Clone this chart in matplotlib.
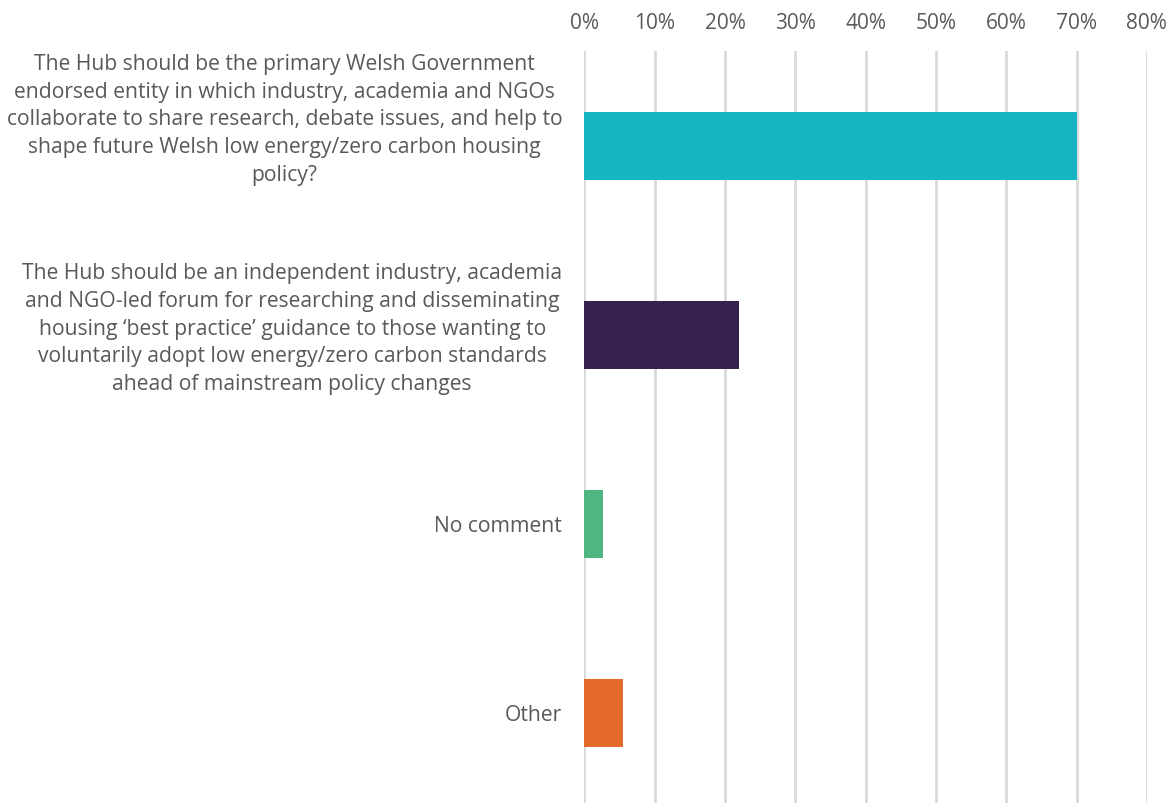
import matplotlib.pyplot as plt
from matplotlib.ticker import PercentFormatter

# survey answers, top to bottom
options = [
    "The Hub should be the primary Welsh Government\n"
    "endorsed entity in which industry, academia and NGOs\n"
    "collaborate to share research, debate issues, and help to\n"
    "shape future Welsh low energy/zero carbon housing\n"
    "policy?",
    "The Hub should be an independent industry, academia\n"
    "and NGO-led forum for researching and disseminating\n"
    "housing \u2018best practice\u2019 guidance to those wanting to\n"
    "voluntarily adopt low energy/zero carbon standards\n"
    "ahead of mainstream policy changes",
    "No comment",
    "Other",
]
shares = [70.0, 22.0, 2.7, 5.5]
bar_colors = ["#17B5C4", "#38204F", "#4FB581", "#E46A2B"]
x_ticks = [0, 10, 20, 30, 40, 50, 60, 70, 80]
# long wrapped labels sit a little above their bar (points)
label_lift = [19.5, 5, -1, -1]

text_grey = "#595959"
plt.rcParams["font.family"] = ["Open Sans", "DejaVu Sans"]

fig = plt.figure(figsize=(11.75, 8.04), dpi=100)
ax = fig.add_axes([0.4974, -0.006, 0.4786, 0.941])

ax.barh(range(len(options)), shares, height=0.36, color=bar_colors, zorder=3)
ax.set_ylim(len(options) - 0.5, -0.5)
ax.set_xlim(0, 80)

ax.xaxis.tick_top()
ax.set_xticks(x_ticks)
ax.xaxis.set_major_formatter(PercentFormatter(decimals=0))
ax.tick_params(axis="x", length=0, pad=13.5, labelsize=15, colors=text_grey)
ax.grid(axis="x", color="#D9D9D9", linewidth=2, zorder=0)

# category labels drawn as annotations so each can be nudged
ax.set_yticks([])
for i, (text, lift) in enumerate(zip(options, label_lift)):
    ax.annotate(text, xy=(0, i), xycoords=("axes fraction", "data"),
                xytext=(-16, lift), textcoords="offset points",
                ha="right", va="center", multialignment="center",
                fontsize=15.2, color=text_grey, linespacing=1.42,
                annotation_clip=False)

for side in ["top", "bottom", "left", "right"]:
    ax.spines[side].set_visible(False)

fig.savefig("out.png", dpi=100)
